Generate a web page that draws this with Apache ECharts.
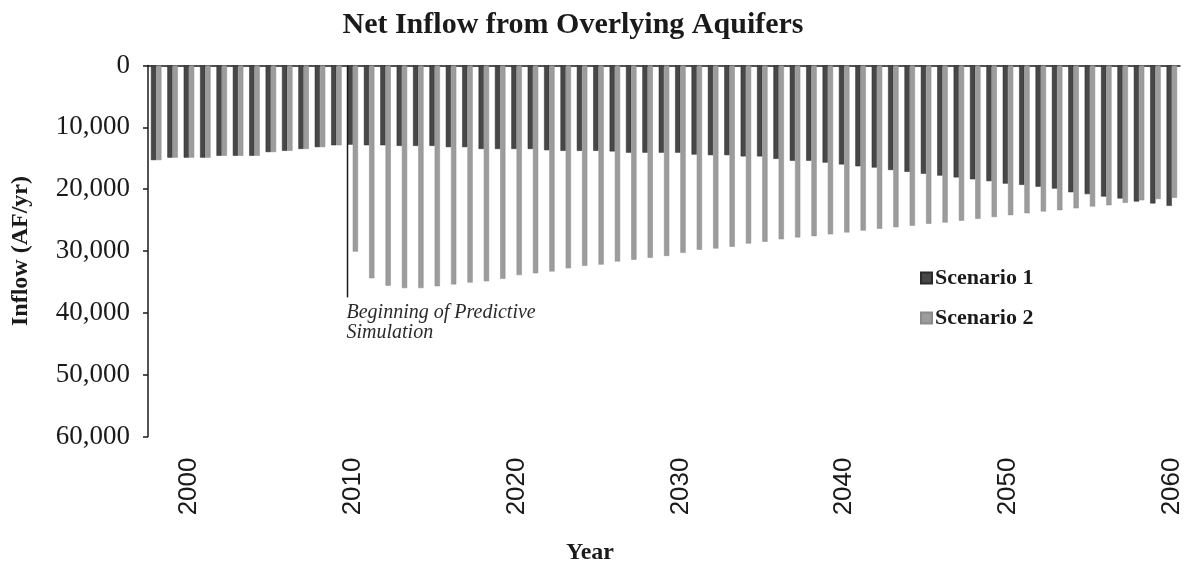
<!DOCTYPE html>
<html>
<head>
<meta charset="utf-8">
<script src="https://cdn.jsdelivr.net/npm/echarts@6/dist/echarts.min.js"></script>
<style>
  html, body { margin: 0; padding: 0; background: #ffffff; }
  #chart { width: 1189px; height: 561px; }
</style>
</head>
<body>
<div id="chart"></div>
<script>
// Simulation years
const years = [];
for (let y = 1998; y <= 2060; y++) years.push(String(y));

// Net inflow from overlying aquifers (AF/yr)
const scenario1 = [
  15300, 14900, 14900, 14900, 14600, 14600, 14600, 14000, 13800, 13500,
  13200, 12900, 12800, 12900, 12900, 13000, 13000, 13000, 13200, 13200,
  13500, 13500, 13500, 13500, 13700, 13800, 13800, 13800, 13900, 14100,
  14100, 14100, 14100, 14400, 14500, 14500, 14700, 14700, 15100, 15400,
  15400, 15700, 16000, 16300, 16500, 16900, 17200, 17500, 17800, 18100,
  18400, 18700, 19100, 19300, 19600, 19900, 20500, 20800, 21200, 21500,
  22000, 22300, 22700
];
const scenario2 = [
  15300, 14900, 14900, 14900, 14600, 14600, 14600, 14000, 13800, 13500,
  13200, 12900, 30100, 34400, 35600, 36000, 36000, 35700, 35400, 35100,
  34900, 34500, 33900, 33600, 33300, 32800, 32400, 32200, 31700, 31400,
  31100, 30800, 30300, 29800, 29600, 29300, 28800, 28500, 28100, 27800,
  27600, 27300, 27000, 26700, 26400, 26150, 25900, 25600, 25400, 25100,
  24800, 24500, 24200, 23900, 23600, 23400, 23100, 22800, 22600, 22200,
  21800, 21600, 21400
];

// Y axis tick values and the predictive-simulation marker
const yTicks = [0, 10000, 20000, 30000, 40000, 50000, 60000];
const markerYear = '2010';
const markerDepth = 37500;
const markerText = ['Beginning of Predictive', 'Simulation'];

const serif = '"Liberation Serif", "Times New Roman", serif';
const chart = echarts.init(document.getElementById('chart'), null, { renderer: 'canvas' });

const option = {
  animation: false,
  backgroundColor: '#ffffff',
  title: [
    {
      text: 'Net Inflow from Overlying Aquifers',
      left: 568, top: 5, textAlign: 'center',
      textStyle: { fontFamily: serif, fontWeight: 'bold', fontSize: 30, color: '#1a1a1a' }
    },
    {
      text: 'Year',
      left: 585, top: 536, textAlign: 'center',
      textStyle: { fontFamily: serif, fontWeight: 'bold', fontSize: 24, color: '#1a1a1a' }
    }
  ],
  legend: {
    orient: 'vertical',
    left: 915, top: 262,
    itemWidth: 11, itemHeight: 11, itemGap: 18,
    icon: 'rect',
    textStyle: { fontFamily: serif, fontWeight: 'bold', fontSize: 22, color: '#1a1a1a', padding: [0, 0, 0, -2] },
    data: ['Scenario 1', 'Scenario 2']
  },
  grid: { left: 148, right: 9, top: 65.5, bottom: 124.5, containLabel: false },
  xAxis: [
    {
      type: 'category',
      data: years,
      position: 'bottom',
      axisLine: { show: false, onZero: false },
      axisTick: { show: false },
      axisLabel: {
        rotate: 90,
        margin: 21,
        interval: (idx) => (Number(years[idx]) % 10 === 0),
        fontFamily: '"Liberation Sans", Arial, sans-serif',
        fontSize: 26,
        color: '#1a1a1a'
      }
    },
    {
      type: 'category',
      data: years,
      position: 'top',
      axisLine: { show: true, onZero: false, lineStyle: { color: '#1a1a1a', width: 1.5 } },
      axisTick: { show: false },
      axisLabel: { show: false }
    }
  ],
  yAxis: {
    type: 'value',
    inverse: true,
    min: yTicks[0],
    max: yTicks[yTicks.length - 1],
    interval: yTicks[1] - yTicks[0],
    name: 'Inflow (AF/yr)',
    nameLocation: 'middle',
    nameGap: 115,
    nameTextStyle: { fontFamily: serif, fontWeight: 'bold', fontSize: 24, color: '#1a1a1a' },
    axisLine: { show: true, lineStyle: { color: '#1a1a1a', width: 1.5 } },
    axisTick: { show: true, length: 5, lineStyle: { color: '#1a1a1a', width: 1.5 } },
    splitLine: { show: false },
    axisLabel: {
      margin: 18,
      fontFamily: serif,
      fontSize: 27,
      color: '#1a1a1a',
      formatter: (v) => v.toLocaleString('en-US')
    }
  },
  series: [
    {
      name: 'Scenario 1',
      type: 'bar',
      xAxisIndex: 0,
      data: scenario1,
      barWidth: '32%',
      barGap: '0%',
      itemStyle: { color: '#474747', borderColor: '#2a2a2a', borderWidth: 0.5 }
    },
    {
      name: 'Scenario 2',
      type: 'bar',
      xAxisIndex: 0,
      data: scenario2,
      barWidth: '32%',
      barGap: '0%',
      itemStyle: { color: '#9c9c9c', borderColor: '#8a8a8a', borderWidth: 0.5 }
    }
  ]
};

chart.setOption(option);

// Marker line at the start of the predictive run, placed at the left edge of that year's bar pair
const bandWidth = chart.convertToPixel({ xAxisIndex: 0 }, years[1]) - chart.convertToPixel({ xAxisIndex: 0 }, years[0]);
const mx = Math.round(chart.convertToPixel({ xAxisIndex: 0 }, markerYear) - bandWidth * 0.36) + 0.5;
const my0 = chart.convertToPixel({ yAxisIndex: 0 }, 0);
const my1 = chart.convertToPixel({ yAxisIndex: 0 }, markerDepth);

chart.setOption({
  graphic: [
    {
      type: 'line',
      z: 10,
      shape: { x1: mx, y1: my0, x2: mx, y2: my1 },
      style: { stroke: '#1a1a1a', lineWidth: 1.5 }
    },
    {
      type: 'text',
      z: 10,
      x: mx - 1,
      y: my1 + 5,
      style: {
        text: markerText.join('\n'),
        fontFamily: serif,
        fontStyle: 'italic',
        fontSize: 20,
        lineHeight: 20,
        fill: '#2a2a2a',
        textAlign: 'left',
        textVerticalAlign: 'top'
      }
    }
  ]
});
</script>
</body>
</html>
